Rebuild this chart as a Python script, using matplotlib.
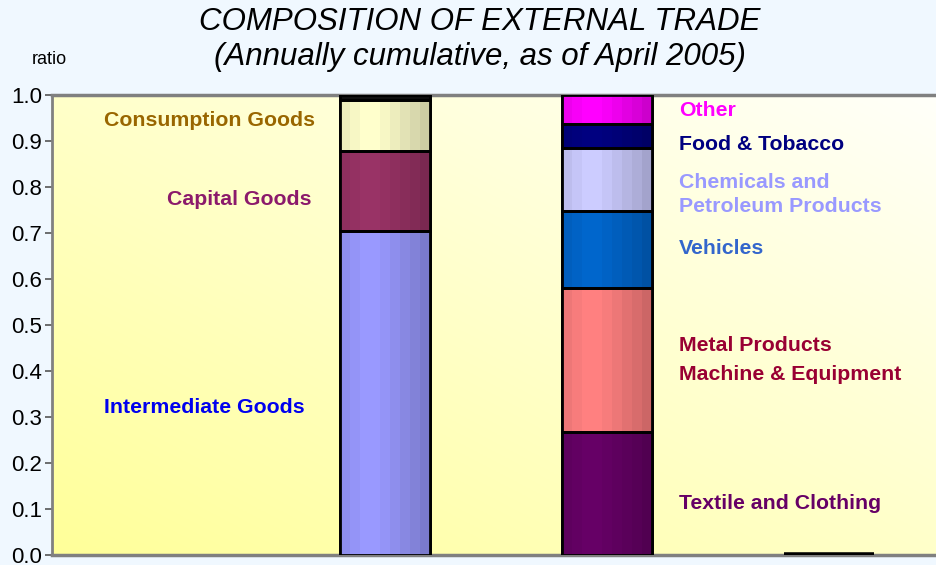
import numpy as np
import matplotlib
matplotlib.use("Agg")
import matplotlib.pyplot as plt
from matplotlib.colors import to_rgb

# --- data -------------------------------------------------------------
positions = [0, 1, 2]
import_labels = ["Intermediate Goods", "Capital Goods", "Consumption Goods", "Other imports"]
import_values = [0.704, 0.174, 0.112, 0.010]
import_colors = ["#9999FF", "#993366", "#FFFFCC", "#111111"]

export_labels = ["Textile and Clothing", "Metal Products / Machine & Equipment", "Vehicles",
                 "Chemicals and Petroleum Products", "Food & Tobacco", "Other"]
export_values = [0.267, 0.313, 0.168, 0.137, 0.052, 0.063]
export_colors = ["#660066", "#FF8080", "#0066CC", "#CCCCFF", "#000080", "#FF00FF"]

third_value = 0.0

yticks = [0.0, 0.1, 0.2, 0.3, 0.4, 0.5, 0.6, 0.7, 0.8, 0.9, 1.0]

plt.rcParams["font.family"] = ["Liberation Sans Narrow", "Liberation Sans", "DejaVu Sans"]

fig = plt.figure(figsize=(9.36, 5.65), dpi=100)
fig.patch.set_facecolor("#F0F8FF")
ax = fig.add_axes([52 / 936, 10 / 565, 888 / 936, 460 / 565])

# background gradient of plot area (yellow bottom-left -> near white top-right)
gx, gy = np.meshgrid(np.linspace(0, 1, 200), np.linspace(0, 1, 200))
t = np.clip((gx + gy) / 2.0, 0, 1)
c0 = np.array(to_rgb("#FFFF99"))
c1 = np.array(to_rgb("#FFFFFA"))
bg = c0[None, None, :] * (1 - t[..., None]) + c1[None, None, :] * t[..., None]
ax.imshow(bg, extent=(0, 1, 0, 1), origin="lower", transform=ax.transAxes,
          aspect="auto", zorder=0)

width = 0.405
profile = np.array([0.93, 0.97, 1.0, 1.0, 0.97, 0.93, 0.89, 0.85, 0.80])


def shaded_stack(x, values, colors):
    bottom = 0.0
    for v, c in zip(values, colors):
        bar = ax.bar(x, v, width, bottom=bottom, color=c, edgecolor="black",
                     linewidth=2, zorder=3)[0]
        rgb = np.array(to_rgb(c))
        strip = np.clip(rgb[None, :] * profile[:, None], 0, 1)[None, :, :]
        im = ax.imshow(strip, extent=(x - width / 2, x + width / 2, bottom, bottom + v),
                       aspect="auto", interpolation="nearest", zorder=3.5)
        im.set_clip_path(bar)
        ax.bar(x, v, width, bottom=bottom, facecolor="none", edgecolor="black",
               linewidth=2, zorder=4)
        bottom += v


shaded_stack(positions[0], import_values, import_colors)
shaded_stack(positions[1], export_values, export_colors)
ax.bar(positions[2], third_value, width, color="black", edgecolor="black",
       linewidth=4, zorder=4)

ax.set_xlim(-1.5, 2.5)
ax.set_ylim(0, 1.0)
ax.set_yticks(yticks)
ax.set_yticklabels([f"{v:.1f}" for v in yticks], fontsize=16)
ax.set_xticks([])
ax.tick_params(axis="y", length=5, width=1.2, color="#555555", pad=2)

for side in ["top", "bottom"]:
    ax.spines[side].set_color("#808080")
    ax.spines[side].set_linewidth(2.5)
ax.spines["left"].set_color("#808080")
ax.spines["left"].set_linewidth(2)
ax.spines["right"].set_visible(False)

# category labels
bold = dict(fontsize=15.3, fontweight="bold", family=["Liberation Sans", "DejaVu Sans"],
            va="center", zorder=5)
ax.text(-1.266, 0.945, "Consumption Goods", color="#996600", ha="left", **bold)
ax.text(-0.329, 0.772, "Capital Goods", color="#8B1A6B", ha="right", **bold)
ax.text(-1.266, 0.320, "Intermediate Goods", color="#0000EE", ha="left", **bold)

xr = 1.324
ax.text(xr, 0.966, "Other", color="#FF00FF", ha="left", **bold)
ax.text(xr, 0.892, "Food & Tobacco", color="#000080", ha="left", **bold)
ax.text(xr, 0.784, "Chemicals and\nPetroleum Products", color="#9999FF", ha="left",
        linespacing=1.35, **bold)
ax.text(xr, 0.666, "Vehicles", color="#3366CC", ha="left", **bold)
ax.text(xr, 0.455, "Metal Products", color="#990033", ha="left", **bold)
ax.text(xr, 0.393, "Machine & Equipment", color="#990033", ha="left", **bold)
ax.text(xr, 0.111, "Textile and Clothing", color="#660066", ha="left", **bold)

fig.text(480 / 936, 1 - 22 / 565, "COMPOSITION OF EXTERNAL TRADE", ha="center",
         va="center", fontsize=22.5, style="italic")
fig.text(480 / 936, 1 - 57 / 565, "(Annually cumulative, as of April 2005)", ha="center",
         va="center", fontsize=22.5, style="italic")
fig.text(49 / 936, 1 - 60 / 565, "ratio", ha="center", va="center", fontsize=13)

fig.savefig("out.png", dpi=100, facecolor=fig.get_facecolor())
